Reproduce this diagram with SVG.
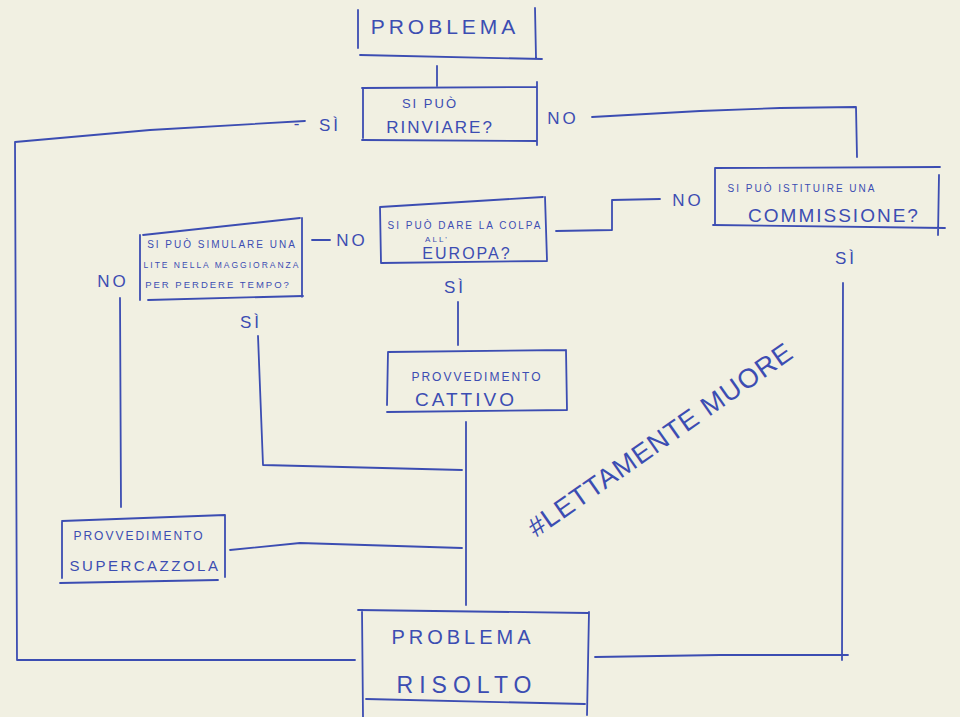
<svg xmlns="http://www.w3.org/2000/svg" width="960" height="717" viewBox="0 0 960 717">
<style>
.ink{fill:none;stroke:#3c4db2;stroke-width:1.8;stroke-linecap:round;stroke-linejoin:round}
.t{font-family:"Liberation Sans",Arial,sans-serif;fill:#3c4db2;text-anchor:middle}
.lbl{font-family:"Liberation Sans",Arial,sans-serif;fill:#3c4db2;text-anchor:middle;font-size:17px;letter-spacing:3px}
</style>
<rect width="960" height="717" fill="#f1f0e2"/>
<g id="connectors">
  <path class="ink" d="M437 66 L437 86"/>
  <path class="ink" d="M305 121 L150 130 L15 142 L17 660 L355 660"/>
  <path class="ink" d="M592 117 L700 111 L780 108 L856 107 L857 157"/>
  <path class="ink" d="M556 231 L612 230 L612 200 L660 199"/>
  <path class="ink" d="M843 283 L842 660"/>
  <path class="ink" d="M595 657 L720 655 L848 655"/>
  <path class="ink" d="M312 240 L330 240"/>
  <path class="ink" d="M458 302 L458 345"/>
  <path class="ink" d="M120 298 L121 507"/>
  <path class="ink" d="M258 336 L263 465 L462 470"/>
  <path class="ink" d="M466 422 L466 605"/>
  <path class="ink" d="M230 550 L300 543 L462 548"/>
</g>
<g id="labels">
  <text class="lbl" x="330" y="131">SÌ</text>
  <text class="lbl" x="298" y="129">-</text>
  <text class="lbl" x="563" y="124">NO</text>
  <text class="lbl" x="688" y="206">NO</text>
  <text class="lbl" x="846" y="264">SÌ</text>
  <text class="lbl" x="352" y="246">NO</text>
  <text class="lbl" x="455" y="293">SÌ</text>
  <text class="lbl" x="113" y="287">NO</text>
  <text class="lbl" x="251" y="328">SÌ</text>
</g>
<g id="problema">
  <path class="ink" d="M358 10 L358 48 M535 8 L536 58 M360 55 L542 59"/>
  <text class="t" x="445" y="34" font-size="21" style="letter-spacing:4px">PROBLEMA</text>
</g>
<g id="rinviare">
  <path class="ink" d="M362 88 L537 87 M363 88 L363 138 M537 82 L537 145 M362 140 L537 141"/>
  <text class="t" x="430" y="108" font-size="13" style="letter-spacing:2px">SI PUÒ</text>
  <text class="t" x="440" y="133" font-size="17" style="letter-spacing:2px">RINVIARE?</text>
</g>
<g id="commissione">
  <path class="ink" d="M715 168 L940 167 M715 168 L715 225 M939 175 L938 235 M713 225 L945 228"/>
  <text class="t" x="802" y="192" font-size="10" style="letter-spacing:2px">SI PUÒ ISTITUIRE UNA</text>
  <text class="t" x="834" y="222" font-size="19" style="letter-spacing:2px">COMMISSIONE?</text>
</g>
<g id="europa">
  <path class="ink" d="M380 207 L543 197 M380 207 L381 263 M545 197 L547 260 M381 263 L547 261"/>
  <text class="t" x="465" y="229" font-size="10" style="letter-spacing:2px">SI PUÒ DARE LA COLPA</text>
  <text class="t" x="437" y="242" font-size="8" style="letter-spacing:2px">ALL'</text>
  <text class="t" x="467" y="259" font-size="16" style="letter-spacing:2px">EUROPA?</text>
</g>
<g id="lite">
  <path class="ink" d="M143 235 L300 218 M140 235 L140 300 M302 218 L302 297 M148 300 L303 296"/>
  <text class="t" x="222" y="248" font-size="10" style="letter-spacing:2px">SI PUÒ SIMULARE UNA</text>
  <text class="t" x="222" y="268" font-size="8.5" style="letter-spacing:2px">LITE NELLA MAGGIORANZA</text>
  <text class="t" x="218" y="288" font-size="9.5" style="letter-spacing:2px">PER PERDERE TEMPO?</text>
</g>
<g id="cattivo">
  <path class="ink" d="M388 352 L566 350 M388 352 L387 405 M566 350 L567 410 M387 412 L567 410"/>
  <text class="t" x="477" y="381" font-size="12" style="letter-spacing:2px">PROVVEDIMENTO</text>
  <text class="t" x="466" y="406" font-size="19" style="letter-spacing:3px">CATTIVO</text>
</g>
<g id="supercazzola">
  <path class="ink" d="M62 521 L225 515 M62 522 L62 578 M225 515 L225 577 M60 583 L218 580"/>
  <text class="t" x="139" y="540" font-size="12" style="letter-spacing:2px">PROVVEDIMENTO</text>
  <text class="t" x="145" y="571" font-size="15" style="letter-spacing:2.5px">SUPERCAZZOLA</text>
</g>
<g id="risolto">
  <path class="ink" d="M358 610 L588 613 M362 610 L363 717 M589 612 L587 715 M366 699 L585 704"/>
  <text class="t" x="463" y="644" font-size="20" style="letter-spacing:4px">PROBLEMA</text>
  <text class="t" x="467" y="693" font-size="23" style="letter-spacing:6px">RISOLTO</text>
</g>
<g id="hashtag">
  <text class="t" transform="translate(536 538) rotate(-35)" x="0" y="0" font-size="27" style="text-anchor:start;letter-spacing:1px">#LETTAMENTE MUORE</text>
</g>
</svg>
